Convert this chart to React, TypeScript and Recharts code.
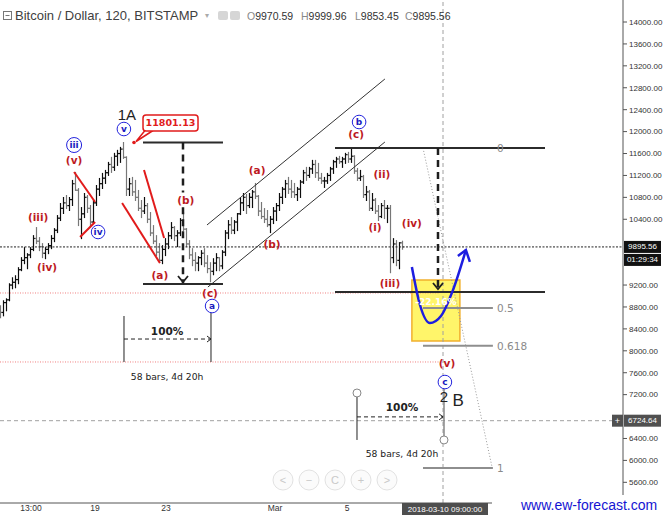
import React from "react";
import {
  Bar,
  ComposedChart,
  Line,
  ReferenceArea,
  ReferenceDot,
  ReferenceLine,
  XAxis,
  YAxis
} from "recharts";

const CHART_W = 663;
const CHART_H = 515;
const X_MAX = 207.67; // 4h slots across the plot
const Y_MIN = 5222.6;
const Y_MAX = 14401.5;

// OHLC (one entry per 4h slot)
const highs = [
  8821, 8913, 8949, 9224, 9333, 9370, 9517, 9700, 9883, 9773,
  9883, 10102, 10249, 10066, 9956, 9883, 9956, 10102, 10230, 10468,
  10688, 10798, 10834, 10798, 11109, 11255, 10960, 10614, 10871, 10834,
  10651, 10743, 11017, 11145, 11237, 11292, 11438, 11530, 11603, 11658,
  11712, 11801.13, 11540, 11145, 11164, 11109, 10926, 10743, 10798, 10688,
  10523, 10285, 10102, 9956, 9919, 10047, 10157, 10340, 10267, 10194,
  10413, 10523, 10230, 10011, 9864, 9791, 9718, 9828, 9864, 9737,
  9608, 9681, 9773, 9700, 9828, 10194, 10377, 10431, 10377, 10505,
  10779, 10871, 10853, 10871, 10926, 11054, 10834, 10706, 10596, 10560,
  10450, 10614, 10688, 10871, 10981, 11109, 11164, 11109, 11054, 10981,
  11109, 11292, 11347, 11347, 11475, 11475, 11420, 11237, 11164, 11237,
  11347, 11475, 11530, 11548, 11530, 11603, 11621, 11694, 11560, 11328,
  11292, 11200, 10999, 10926, 10871, 10779, 10651, 10688, 10743, 10651,
  10651, 10047, 10011, 9974, 9999.96
];

const lows = [
  8601, 8638, 8730, 8913, 9132, 9150, 9224, 9462, 9590, 9498,
  9700, 9828, 9956, 9828, 9700, 9681, 9773, 9864, 9992, 10157,
  10377, 10505, 10596, 10560, 10651, 10926, 10285, 10047, 10431, 10523,
  10285, 10340, 10651, 10834, 10962, 11054, 11200, 11255, 11292, 11383,
  11438, 11511, 10834, 10834, 10834, 10743, 10560, 10431, 10505, 10340,
  10102, 9956, 9737, 9608, 9590, 9737, 9864, 10047, 10011, 9901,
  10102, 10194, 9901, 9681, 9553, 9462, 9462, 9572, 9535, 9425,
  9260, 9388, 9462, 9462, 9498, 9737, 10047, 10139, 10139, 10194,
  10486, 10560, 10505, 10614, 10614, 10779, 10468, 10413, 10340, 10267,
  10157, 10322, 10377, 10560, 10688, 10798, 10871, 10798, 10798, 10743,
  10798, 11054, 11109, 11164, 11237, 11164, 11109, 11054, 10981, 11054,
  11109, 11237, 11347, 11420, 11347, 11420, 11438, 11438, 11237, 11109,
  11109, 10798, 10743, 10560, 10560, 10505, 10377, 10431, 10413, 10340,
  9425, 9608, 9553, 9498, 9853.45
];

const closes = [
  8700, 8880, 8930, 9200, 9250, 9300, 9480, 9650, 9700, 9750,
  9850, 10050, 10000, 9900, 9780, 9850, 9920, 10050, 10200, 10420,
  10600, 10700, 10650, 10760, 11050, 10930, 10400, 10500, 10800, 10600,
  10350, 10700, 10950, 11050, 11150, 11250, 11400, 11350, 11550, 11600,
  11680, 11530, 10950, 11050, 10900, 10800, 10600, 10550, 10650, 10400,
  10150, 10000, 9800, 9650, 9850, 9950, 10100, 10250, 10100, 10150,
  10380, 10220, 9950, 9750, 9650, 9600, 9700, 9780, 9600, 9500,
  9450, 9600, 9700, 9550, 9800, 10150, 10300, 10200, 10350, 10500,
  10700, 10800, 10650, 10800, 10900, 10820, 10550, 10450, 10400, 10300,
  10400, 10550, 10650, 10800, 10950, 11050, 10950, 10900, 10850, 10950,
  11080, 11250, 11200, 11320, 11400, 11250, 11150, 11100, 11100, 11200,
  11320, 11450, 11500, 11450, 11500, 11580, 11500, 11550, 11280, 11150,
  11180, 10850, 10900, 10600, 10750, 10550, 10450, 10650, 10600, 10600,
  9700, 9950, 9650, 9970.59, 9895.56
];

const firstOpen = 8750;

// 10000, 9600 and 6800 sit under the price boxes on the axis
const priceTicks = [
  5600, 6000, 6400, 7200, 7600, 8000, 8400, 8800, 9200,
  10400, 10800, 11200, 11600, 12000, 12400, 12800, 13200, 13600, 14000
];
const timeTicks = [10.33, 31.67, 55.33, 91.67, 115.67];
const timeLabels = ["13:00", "19", "23", "Mar", "5"];

const lastPrice = 9895.56;
const crossPrice = 6724.64;
const crossTime = 147.67;
const peakPrice = 11801.13;

// projected path (blue arrow)
const projectionTimes = [137.3, 140, 143.3, 147, 151, 155.3];
const projectionPrices = [9529, 8836, 8507, 8635, 9110, 9840];

// fibonacci extension
const fibLevels = [0, 0.5, 0.618, 1];
const fibTop = 11701;
const fibBottom = 5863;

// wave labels: [text, slot, price]
const redLabels: [string, number, number][] = [
  ["(iii)", 12.7, 10442],
  ["(iv)", 15.7, 9529],
  ["(v)", 24.7, 11482],
  ["(a)", 53.3, 9383],
  ["(b)", 61.9, 10752],
  ["(c)", 70, 9055],
  ["(a)", 85.7, 11299],
  ["(b)", 90.7, 9949],
  ["(c)", 118.7, 11957],
  ["(ii)", 127.3, 11226],
  ["(i)", 125, 10259],
  ["(iv)", 137.3, 10332],
  ["(iii)", 130, 9237],
  ["(v)", 149, 7777]
];
const blueLabels: [string, number, number][] = [
  ["iii", 24.7, 11755],
  ["iv", 32.7, 10168],
  ["v", 41.3, 12047],
  ["a", 70.7, 8817],
  ["b", 119.7, 12175],
  ["c", 148.3, 7430]
];
const bigLabels: [string, number, number][] = [
  ["1A", 42.3, 12303],
  ["2", 148, 7170],
  ["B", 152.7, 7102]
];

type Seg = [number, number, number, number];
const redStrokes: Seg[] = [
  [24.7, 11263, 31.7, 10715],
  [26.7, 10077, 31.7, 10350],
  [40.7, 10697, 53.3, 9602],
  [48, 11299, 54.7, 10058]
];
const channelLines: Seg[] = [
  [69, 10296, 128.3, 12960],
  [69.3, 9164, 128.3, 11810]
];
const levelLines: Seg[] = [
  [47.67, peakPrice, 74.33, peakPrice],
  [47.67, 9219, 74.33, 9219],
  [111.67, 11701, 181.67, 11701],
  [111.67, 9073, 181.67, 9073]
];
// dashed target drops (the first one is broken where the (b) label sits)
const targetDrops: Seg[] = [
  [61, peakPrice, 61, 10890],
  [61, 10620, 61, 9237],
  [146, 11701, 146, 9110]
];
const dropTips = [
  [61, 9237],
  [146, 9110]
];
const redDotted = [9055, 7796];

const bars = highs.map((h, k) => ({
  i: k,
  range: [lows[k], h],
  o: k === 0 ? firstOpen : closes[k - 1],
  h,
  l: lows[k],
  c: closes[k]
}));

const projection = projectionTimes.map((t, j) => ({ i: t, p: projectionPrices[j] }));

const RED = "#e11b1b";
const WAVE_RED = "#bd1a1f";
const BLUE = "#2222dd";
const LABEL_FONT = "DejaVu Sans, Verdana, sans-serif";

function OhlcBar(props: any) {
  const { x, y, width, height, payload } = props;
  if (x == null || y == null) return null;
  const top = Math.min(y, y + height);
  const bottom = Math.max(y, y + height);
  const cx = Math.round(x + width / 2) + 0.5;
  const span = payload.h - payload.l || 1;
  const toY = (v: number) => top + ((payload.h - v) / span) * (bottom - top);
  const color = payload.c >= payload.o ? "#0d0d0d" : "#777";
  return (
    <g stroke={color} strokeWidth={1.2}>
      <line x1={cx} x2={cx} y1={top - 0.5} y2={bottom + 0.5} />
      <line x1={cx - 1.8} x2={cx} y1={toY(payload.o)} y2={toY(payload.o)} />
      <line x1={cx} x2={cx + 1.8} y1={toY(payload.c)} y2={toY(payload.c)} />
    </g>
  );
}

function mark(key: string, i: number, p: number, draw: (cx: number, cy: number) => React.ReactNode) {
  return (
    <ReferenceDot
      key={key}
      x={i}
      y={p}
      r={1}
      ifOverflow="visible"
      shape={(props: any) => <g>{draw(props.cx, props.cy)}</g>}
    />
  );
}

function seg(key: string, s: Seg, stroke: string, width: number, dash?: string) {
  return (
    <ReferenceLine
      key={key}
      segment={[{ x: s[0], y: s[1] }, { x: s[2], y: s[3] }]}
      stroke={stroke}
      strokeWidth={width}
      strokeDasharray={dash}
      ifOverflow="visible"
    />
  );
}

function Chrome() {
  const navIcons = ["<", "\u2212", "C", "+", ">"];
  return (
    <svg
      width={CHART_W}
      height={CHART_H}
      style={{ position: "absolute", left: 0, top: 0, pointerEvents: "none" }}
    >
      <rect x={3.5} y={11.5} width={8} height={8} fill="#fff" stroke="#777" />
      <line x1={5.5} x2={9.5} y1={15.5} y2={15.5} stroke="#777" />
      <text x={15} y={19.5} fontSize={13} fill="#404040" fontFamily="Liberation Sans, Arial, sans-serif">
        Bitcoin / Dollar, 120, BITSTAMP
      </text>
      <text x={205} y={18} fontSize={8} fill="#aaa">▾</text>
      <rect x={218} y={11} width={10} height={9} rx={2} fill="#d6d6d6" />
      <rect x={230} y={11} width={10} height={9} rx={2} fill="#d6d6d6" />
      <text y={19.5} fontSize={10.5} fill="#333" fontFamily="Liberation Sans, Arial, sans-serif">
        <tspan x={247} fill="#888">O</tspan>
        <tspan>9970.59</tspan>
        <tspan x={301} fill="#888">H</tspan>
        <tspan>9999.96</tspan>
        <tspan x={355} fill="#888">L</tspan>
        <tspan>9853.45</tspan>
        <tspan x={405} fill="#888">C</tspan>
        <tspan>9895.56</tspan>
      </text>
      {navIcons.map((icon, n) => (
        <g key={n}>
          <circle cx={283 + n * 26} cy={480} r={10} fill="#fbfbfb" stroke="#e2e2e2" />
          <text
            x={283 + n * 26}
            y={480}
            textAnchor="middle"
            dominantBaseline="central"
            fontSize={11}
            fill="#c9c9c9"
          >
            {icon}
          </text>
        </g>
      ))}
      <rect x={492} y={495} width={171} height={20} fill="#fff" />
      <text x={521} y={510} fontSize={14} fill="#1414d2" fontFamily="Liberation Sans, Arial, sans-serif">
        www.ew-forecast.com
      </text>
    </svg>
  );
}

export default function App() {
  const fibSpan = fibTop - fibBottom;
  const last = projection[projection.length - 1];
  return (
    <div
      style={{
        position: "absolute",
        left: 0,
        top: 0,
        width: CHART_W,
        height: CHART_H,
        background: "#fff",
        overflow: "hidden",
        fontFamily: "Liberation Sans, Arial, sans-serif"
      }}
    >
      <ComposedChart
        width={CHART_W}
        height={CHART_H}
        data={bars}
        margin={{ top: 0, right: 0, bottom: 0, left: 0 }}
      >
        <XAxis
          dataKey="i"
          type="number"
          domain={[0, X_MAX]}
          allowDataOverflow
          ticks={timeTicks}
          interval={0}
          tickFormatter={(v: number) => timeLabels[timeTicks.indexOf(v)] ?? ""}
          height={12}
          tickLine={false}
          tickSize={0}
          tickMargin={2}
          axisLine={{ stroke: "#555" }}
          tick={{ fontSize: 8.5, fill: "#333" }}
        />
        <YAxis
          orientation="right"
          type="number"
          domain={[Y_MIN, Y_MAX]}
          allowDataOverflow
          ticks={priceTicks}
          interval={0}
          tickFormatter={(v: number) => v.toFixed(2)}
          width={40}
          tickSize={4}
          tickMargin={2}
          axisLine={{ stroke: "#555" }}
          tickLine={{ stroke: "#555" }}
          tick={{ fontSize: 8, fill: "#333" }}
        />

        <ReferenceArea
          x1={137.3}
          x2={153.3}
          y1={8179}
          y2={9292}
          fill="#fff45a"
          fillOpacity={0.9}
          stroke="#f1b02e"
          strokeWidth={1.5}
          ifOverflow="visible"
        />

        {/* crosshair and price lines */}
        {seg("cross-v", [crossTime, Y_MIN, crossTime, Y_MAX], "#a0a0a0", 1, "4 3")}
        {seg("cross-h", [0, crossPrice, X_MAX, crossPrice], "#a0a0a0", 1, "4 3")}
        {seg("last", [0, lastPrice, X_MAX, lastPrice], "#222", 1, "2 1.5")}
        {redDotted.map((p, n) => seg(`rd${n}`, [0, p, 146.7, p], "#f08080", 1, "1 1.5"))}

        <Bar dataKey="range" barSize={3} shape={OhlcBar} isAnimationActive={false} />

        {/* fib levels */}
        {seg("fib-diag", [141, fibTop, 164, fibBottom + 20], "#9a9a9a", 1, "1 2")}
        {fibLevels.map((lv) =>
          seg(`fib${lv}`, [141, fibTop - lv * fibSpan, 164.3, fibTop - lv * fibSpan], "#8e8e8e", 2)
        )}
        {fibLevels.map((lv) =>
          mark(`fibt${lv}`, 165.7, fibTop - lv * fibSpan, (cx, cy) => (
            <text x={cx} y={cy} dominantBaseline="central" fontSize={10.5} fill="#8a8a8a" fontFamily={LABEL_FONT}>
              {String(lv)}
            </text>
          ))
        )}

        {channelLines.map((s, n) => seg(`ch${n}`, s, "#333", 1))}
        {levelLines.map((s, n) => seg(`lv${n}`, s, "#2b2b2b", 2))}
        {targetDrops.map((s, n) => seg(`td${n}`, s, "#1e1e1e", 2.5, "7 5"))}
        {dropTips.map(([i, p], n) =>
          mark(`tda${n}`, i, p, (cx, cy) => (
            <path
              d={`M${cx - 5} ${cy - 7} L${cx} ${cy - 1} L${cx + 5} ${cy - 7}`}
              fill="none"
              stroke="#1e1e1e"
              strokeWidth={1.8}
            />
          ))
        )}
        {redStrokes.map((s, n) => seg(`rs${n}`, s, RED, 2))}

        {/* time measurements */}
        {seg("m1a", [41.33, 8635, 41.33, 7796], "#222", 1)}
        {seg("m1b", [70.33, 8690, 70.33, 7796], "#222", 1)}
        {seg("m1c", [41.33, 8215, 70.33, 8215], "#222", 1, "4 3")}
        {seg("m2a", [119, 7230, 119, 6373], "#222", 1)}
        {seg("m2b", [148, 7339, 148, 6427], "#888", 1.5)}
        {seg("m2c", [119, 6794, 147.7, 6794], "#222", 1, "4 3")}
        {[
          [70.33, 8215],
          [147.7, 6794]
        ].map(([i, p], n) =>
          mark(`ma${n}`, i, p, (cx, cy) => (
            <path d={`M${cx - 4} ${cy - 3} L${cx} ${cy} L${cx - 4} ${cy + 3}`} fill="none" stroke="#222" />
          ))
        )}
        {[
          [119, 7230],
          [148, 6373]
        ].map(([i, p], n) =>
          mark(`mc${n}`, i, p, (cx, cy) => <circle cx={cx} cy={cy} r={4} fill="#fff" stroke="#888" />)
        )}
        {[
          [55.7, 8361, 7522],
          [134, 6974, 6135]
        ].map(([i, p1, p2], n) => (
          <React.Fragment key={`mt${n}`}>
            {mark(`mtp${n}`, i, p1, (cx, cy) => (
              <text x={cx} y={cy} textAnchor="middle" dominantBaseline="central" fontSize={10.5} fontWeight="bold" fill="#222" fontFamily={LABEL_FONT}>
                100%
              </text>
            ))}
            {mark(`mtb${n}`, i, p2, (cx, cy) => (
              <text x={cx} y={cy} textAnchor="middle" dominantBaseline="central" fontSize={9.2} fill="#222" fontFamily={LABEL_FONT}>
                58 bars, 4d 20h
              </text>
            ))}
          </React.Fragment>
        ))}

        {/* projection */}
        <Line
          data={projection}
          dataKey="p"
          type="monotoneX"
          stroke="#1d1de0"
          strokeWidth={2.5}
          dot={false}
          activeDot={false}
          isAnimationActive={false}
        />
        {mark("proj-head", last.i, last.p, (cx, cy) => (
          <path
            d={`M${cx - 8} ${cy + 6} L${cx} ${cy} L${cx + 4} ${cy + 12}`}
            fill="none"
            stroke="#1d1de0"
            strokeWidth={2.5}
          />
        ))}
        {mark("pct", 145.3, 8891, (cx, cy) => (
          <text x={cx} y={cy} textAnchor="middle" dominantBaseline="central" fontSize={9} fontWeight="bold" fill="#fff" fontFamily={LABEL_FONT}>
            -22.16%
          </text>
        ))}

        {/* peak callout */}
        {mark("callout", 44.67, peakPrice, (cx, cy) => (
          <>
            <path d={`M${cx + 11} ${cy - 12} L${cx + 2} ${cy - 1} L${cx + 19} ${cy - 12}`} fill="#fff" stroke={RED} strokeWidth={1.5} />
            <rect x={cx + 9} y={cy - 27.5} width={55} height={16} rx={3} fill="#fff" stroke={RED} strokeWidth={1.5} />
            <text x={cx + 36.5} y={cy - 19.5} textAnchor="middle" dominantBaseline="central" fontSize={9.5} fontWeight="bold" fill={RED} fontFamily={LABEL_FONT}>
              11801.13
            </text>
            <circle cx={cx} cy={cy} r={1.8} fill={RED} />
          </>
        ))}

        {redLabels.map(([t, i, p], n) =>
          mark(`r${n}`, i, p, (cx, cy) => (
            <text x={cx} y={cy} textAnchor="middle" dominantBaseline="central" fontSize={10.5} fontWeight="bold" fill={WAVE_RED} fontFamily={LABEL_FONT}>
              {t}
            </text>
          ))
        )}
        {bigLabels.map(([t, i, p], n) =>
          mark(`g${n}`, i, p, (cx, cy) => (
            <text x={cx} y={cy} textAnchor="middle" dominantBaseline="central" fontSize={t === "B" ? 17 : 15} fill="#222">
              {t}
            </text>
          ))
        )}
        {blueLabels.map(([t, i, p], n) =>
          mark(`b${n}`, i, p, (cx, cy) => (
            <>
              <circle cx={cx} cy={cy} r={t.length > 2 ? 7.5 : 6.8} fill="#fff" stroke={BLUE} strokeWidth={1} />
              <text x={cx} y={cy} textAnchor="middle" dominantBaseline="central" fontSize={9} fontWeight="bold" fill="#1b1bc0" fontFamily={LABEL_FONT}>
                {t}
              </text>
            </>
          ))
        )}

        {/* axis boxes */}
        {mark("last-box", X_MAX, lastPrice, (cx, cy) => (
          <>
            <rect x={cx + 1} y={cy - 6} width={37} height={12} fill="#111" />
            <text x={cx + 19.5} y={cy} textAnchor="middle" dominantBaseline="central" fontSize={8} fill="#fff">
              {lastPrice.toFixed(2)}
            </text>
            <rect x={cx + 1} y={cy + 7} width={37} height={12} fill="#111" />
            <text x={cx + 19.5} y={cy + 13} textAnchor="middle" dominantBaseline="central" fontSize={8} fill="#fff">
              01:29:34
            </text>
          </>
        ))}
        {mark("cross-box", X_MAX, crossPrice, (cx, cy) => (
          <>
            <rect x={cx - 11} y={cy - 6} width={11} height={12} fill="#505050" />
            <text x={cx - 5.5} y={cy} textAnchor="middle" dominantBaseline="central" fontSize={9} fill="#fff">
              +
            </text>
            <rect x={cx + 1} y={cy - 6} width={37} height={12} fill="#505050" />
            <text x={cx + 19.5} y={cy} textAnchor="middle" dominantBaseline="central" fontSize={8} fill="#fff">
              {crossPrice.toFixed(2)}
            </text>
          </>
        ))}
        {mark("date-box", crossTime, Y_MIN, (cx, cy) => (
          <>
            <rect x={cx - 41} y={cy} width={86} height={12} fill="#4e4e4e" />
            <text x={cx + 2} y={cy + 6} textAnchor="middle" dominantBaseline="central" fontSize={8} fill="#fff">
              2018-03-10 09:00:00
            </text>
          </>
        ))}
      </ComposedChart>
      <Chrome />
    </div>
  );
}
